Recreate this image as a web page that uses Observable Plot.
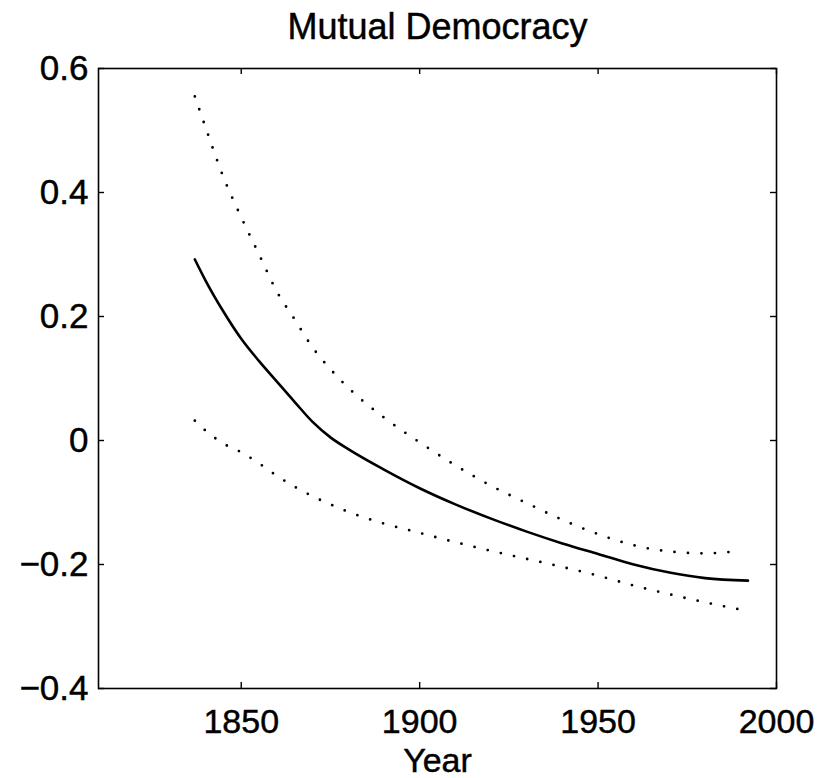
<!DOCTYPE html>
<html><head><meta charset="utf-8">
<script src="https://cdn.jsdelivr.net/npm/d3@7"></script>
<script src="https://cdn.jsdelivr.net/npm/@observablehq/plot@0.6"></script>
<style>body{margin:0;background:#fff} svg{display:block} svg text{stroke:#000;stroke-width:0.45px}</style>
</head><body><div id="chart"></div>
<script>
const title = "Mutual Democracy";
const xLabel = "Year";
const xTicks = [1850, 1900, 1950, 2000];
const yTicks = [-0.4, -0.2, 0, 0.2, 0.4, 0.6];

const estYears  = [1837, 1840, 1845, 1850, 1855, 1860, 1865, 1870, 1875, 1880, 1890, 1900, 1910, 1920, 1930, 1940, 1950, 1960, 1970, 1980, 1992];
const estValues = [0.292, 0.258, 0.208, 0.164, 0.128, 0.095, 0.062, 0.030, 0.005, -0.014, -0.047, -0.077, -0.103, -0.126, -0.147, -0.166, -0.183, -0.200, -0.213, -0.222, -0.226];

const upperYears  = [1837, 1840, 1845, 1850, 1855, 1860, 1865, 1870, 1875, 1880, 1890, 1900, 1910, 1920, 1930, 1940, 1950, 1960, 1970, 1980, 1990];
const upperValues = [0.555, 0.505, 0.425, 0.360, 0.300, 0.240, 0.195, 0.150, 0.115, 0.085, 0.037, -0.003, -0.040, -0.073, -0.101, -0.128, -0.151, -0.169, -0.179, -0.182, -0.178];

const lowerYears  = [1837, 1840, 1845, 1850, 1855, 1860, 1870, 1875, 1880, 1890, 1900, 1910, 1920, 1930, 1940, 1950, 1960, 1970, 1980, 1991];
const lowerValues = [0.032, 0.016, -0.005, -0.019, -0.037, -0.057, -0.090, -0.103, -0.115, -0.134, -0.149, -0.164, -0.178, -0.191, -0.204, -0.218, -0.234, -0.248, -0.261, -0.274];

const zip = (xs, ys) => xs.map((x, i) => ({year: x, value: ys[i]}));
const est = zip(estYears, estValues);
const upper = zip(upperYears, upperValues);
const lower = zip(lowerYears, lowerValues);

const W = 818, H = 778, mL = 98, mR = 42, mT = 68, mB = 90;
const pw = W - mL - mR, ph = H - mT - mB;
const tk = 6;
const fmtY = d => d === 0 ? "0" : (d < 0 ? "\u2212" : "") + Math.abs(d).toFixed(1);

const chart = Plot.plot({
  width: W, height: H,
  marginLeft: mL, marginRight: mR, marginTop: mT, marginBottom: mB,
  style: {fontFamily: "'Liberation Sans', Arial, Helvetica, sans-serif", fontSize: "35px", color: "#000", background: "#fff"},
  x: {domain: [1810, 2000]},
  y: {domain: [-0.4, 0.6]},
  marks: [
    Plot.frame({stroke: "#000", strokeWidth: 1.6}),
    Plot.tickX(xTicks, {x: d => d, insetTop: ph - tk, stroke: "#000", strokeWidth: 1.4}),
    Plot.tickX(xTicks, {x: d => d, insetBottom: ph - tk, stroke: "#000", strokeWidth: 1.4}),
    Plot.tickY(yTicks, {y: d => d, insetRight: pw - tk, stroke: "#000", strokeWidth: 1.4}),
    Plot.tickY(yTicks, {y: d => d, insetLeft: pw - tk, stroke: "#000", strokeWidth: 1.4}),
    Plot.axisX(xTicks, {tickSize: 0, tickPadding: 20, label: null, fontSize: 34, tickFormat: d => String(d)}),
    Plot.axisY(yTicks, {tickSize: 0, tickPadding: 10, label: null, fontSize: 35, tickFormat: fmtY}),
    Plot.line(upper, {x: "year", y: "value", curve: "monotone-x", stroke: "#000", strokeWidth: 2.8, strokeDasharray: "0 13.5", strokeLinecap: "round"}),
    Plot.line(lower, {x: "year", y: "value", curve: "monotone-x", stroke: "#000", strokeWidth: 2.8, strokeDasharray: "0 13.5", strokeLinecap: "round"}),
    Plot.line(est, {x: "year", y: "value", curve: "monotone-x", stroke: "#000", strokeWidth: 2.6}),
    Plot.text([title], {text: d => d, frameAnchor: "top", lineAnchor: "top", dy: -55, fontSize: 36}),
    Plot.text([xLabel], {text: d => d, frameAnchor: "bottom", lineAnchor: "top", dy: 59, fontSize: 34})
  ]
});
document.getElementById("chart").appendChild(chart);
</script>
</body></html>
